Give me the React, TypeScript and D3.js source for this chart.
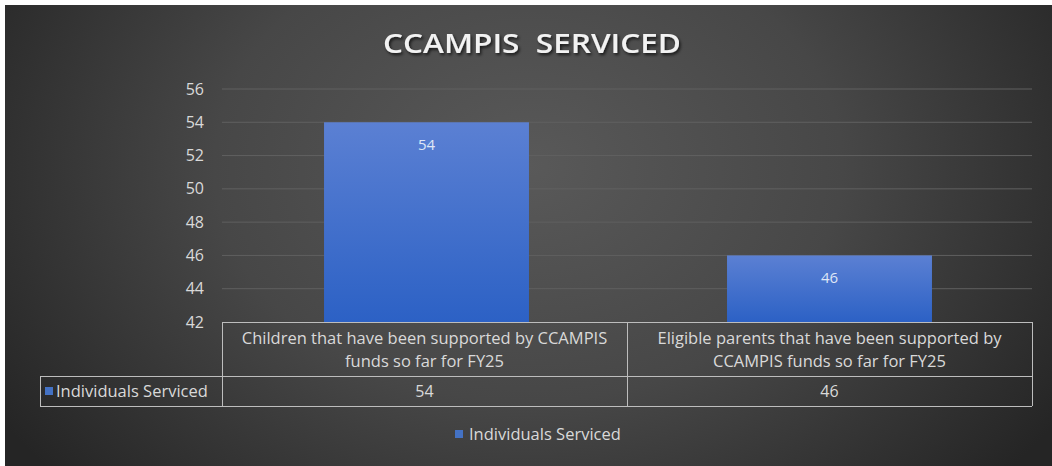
import React from "react";
import * as d3 from "d3";

const categories = [
  "Children that have been supported by CCAMPIS funds so far for FY25",
  "Eligible parents that have been supported by CCAMPIS funds so far for FY25",
];
const categoryLines = [
  ["Children that have been supported by CCAMPIS", "funds so far for FY25"],
  ["Eligible parents that have been supported by", "CCAMPIS funds so far for FY25"],
];
const seriesName = "Individuals Serviced";
const values = [54, 46];
const yTicks = [42, 44, 46, 48, 50, 52, 54, 56];
const title = "CCAMPIS\u00a0\u00a0SERVICED";

const W = 1052;
const H = 466;
const plotLeft = 222;
const plotRight = 1032;
const plotTop = 89;
const plotBottom = 322;
const headerBottom = 376;
const rowBottom = 406;
const rowHeaderLeft = 40;
const font = "'Open Sans', 'DejaVu Sans', sans-serif";
const textColor = "#d9d9d9";
const lineColor = "#bdbdbd";

export default function App() {
  const y = d3.scaleLinear().domain([42, 56]).range([plotBottom, plotTop]);
  const x = d3
    .scaleBand<string>()
    .domain(categories)
    .range([plotLeft, plotRight])
    .paddingInner(0.494)
    .paddingOuter(0.247);
  const step = x.step();

  return (
    <div style={{ position: "absolute", left: 0, top: 0 }}>
      <svg width={W} height={H} style={{ display: "block" }}>
        <defs>
          <radialGradient id="bg" cx="0.5" cy="0.35" r="0.6" gradientTransform="translate(0.5 0.35) scale(1 1.7) translate(-0.5 -0.35)">
            <stop offset="0" stopColor="#595959" />
            <stop offset="0.5" stopColor="#474747" />
            <stop offset="1" stopColor="#252525" />
          </radialGradient>
          <linearGradient id="bar" x1="0" y1="0" x2="0" y2="1">
            <stop offset="0" stopColor="#5b80d3" />
            <stop offset="1" stopColor="#2c61c5" />
          </linearGradient>
          <filter id="shadow" x="-10%" y="-30%" width="120%" height="160%">
            <feDropShadow dx="1.5" dy="2" stdDeviation="1.5" floodColor="#000" floodOpacity="0.7" />
          </filter>
        </defs>
        <rect x={0} y={0} width={W} height={H} fill="#ffffff" />
        <rect x={5} y={5} width={W - 5} height={H - 5} fill="url(#bg)" />

        <text
          x={532}
          y={53}
          textAnchor="middle"
          fontFamily={font}
          fontWeight={600}
          fontSize={27}
          fill="#f2f2f2"
          filter="url(#shadow)"
          textLength={298}
          lengthAdjust="spacingAndGlyphs"
        >
          {title}
        </text>

        {yTicks.map((t) => (
          <g key={t}>
            {t !== 42 && (
              <line x1={plotLeft} x2={plotRight} y1={y(t)} y2={y(t)} stroke="#606060" strokeWidth={1} />
            )}
            <text
              x={204}
              y={y(t)}
              dy="0.35em"
              textAnchor="end"
              fontFamily={font}
              fontSize={16}
              fill={textColor}
            >
              {t}
            </text>
          </g>
        ))}

        {categories.map((c, i) => (
          <g key={c}>
            <rect
              x={x(c)! + (i === 0 ? 2 : 0)}
              y={y(values[i])}
              width={x.bandwidth()}
              height={plotBottom - y(values[i])}
              fill="url(#bar)"
            />
            <text
              x={x(c)! + x.bandwidth() / 2 + (i === 0 ? 2 : 0)}
              y={y(values[i]) + 22}
              dy="0.35em"
              textAnchor="middle"
              fontFamily={font}
              fontSize={15}
              fill="#dfe6f6"
            >
              {values[i]}
            </text>
          </g>
        ))}

        <g fill="none" stroke={lineColor} strokeWidth={1}>
          <line x1={plotLeft} x2={plotRight} y1={plotBottom + 0.5} y2={plotBottom + 0.5} />
          <line x1={rowHeaderLeft} x2={plotRight} y1={headerBottom + 0.5} y2={headerBottom + 0.5} />
          <line x1={rowHeaderLeft} x2={plotRight} y1={rowBottom + 0.5} y2={rowBottom + 0.5} />
          <line x1={rowHeaderLeft + 0.5} x2={rowHeaderLeft + 0.5} y1={headerBottom} y2={rowBottom} />
          {[0, 1, 2].map((k) => (
            <line
              key={k}
              x1={plotLeft + k * step + 0.5}
              x2={plotLeft + k * step + 0.5}
              y1={plotBottom}
              y2={rowBottom}
            />
          ))}
        </g>

        {categories.map((c, i) => {
          const cx = plotLeft + step * i + step / 2;
          return (
            <g key={"t" + c}>
              {categoryLines[i].map((ln, j) => (
                <text
                  key={j}
                  x={cx}
                  y={338 + j * 23}
                  dy="0.35em"
                  textAnchor="middle"
                  fontFamily={font}
                  fontSize={16.5}
                  fill={textColor}
                >
                  {ln}
                </text>
              ))}
              <text
                x={cx}
                y={391}
                dy="0.35em"
                textAnchor="middle"
                fontFamily={font}
                fontSize={16}
                fill={textColor}
              >
                {values[i]}
              </text>
            </g>
          );
        })}

        <rect x={45} y={387} width={8} height={8} fill="#4472c4" />
        <text x={56} y={391} dy="0.35em" fontFamily={font} fontSize={16.5} fill={textColor}>
          {seriesName}
        </text>

        <rect x={455} y={430} width={8} height={8} fill="#4472c4" />
        <text x={469} y={434} dy="0.35em" fontFamily={font} fontSize={16.5} fill={textColor}>
          {seriesName}
        </text>
      </svg>
    </div>
  );
}
